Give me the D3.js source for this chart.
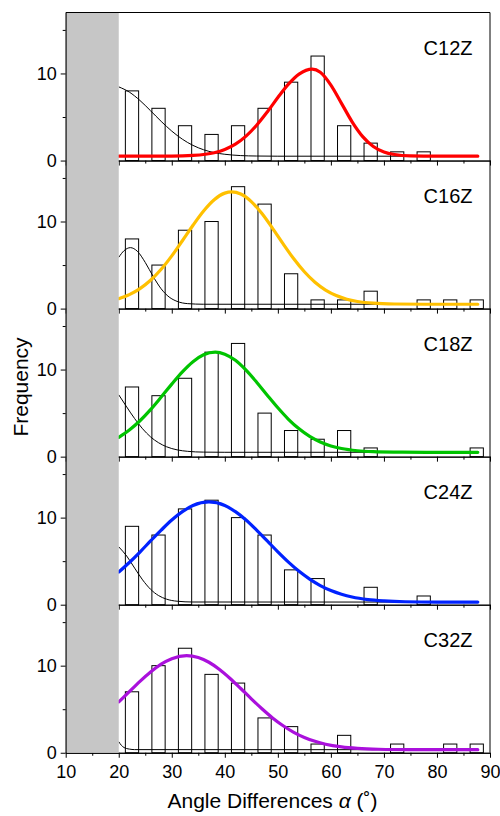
<!DOCTYPE html>
<html>
<head>
<meta charset="utf-8">
<script src="https://cdn.jsdelivr.net/npm/d3@7"></script>
<style>
  body { margin: 0; background: #fff; }
  text { font-family: "Liberation Sans", Arial, sans-serif; fill: #000; }
</style>
</head>
<body>
<svg id="chart" width="500" height="816"></svg>
<script>
// sample names, top to bottom
const samples = ["C12Z", "C16Z", "C18Z", "C24Z", "C32Z"];
const fitColors = ["#ff0000", "#ffc000", "#00c400", "#0022ff", "#aa10dc"];

// histogram bins (5 deg wide)
const binCenters = [22.5, 27.5, 32.5, 37.5, 42.5, 47.5, 52.5, 57.5, 62.5, 67.5, 72.5, 77.5, 82.5, 87.5];
const c12zCounts = [8, 6, 4, 3, 4, 6, 9, 12, 4, 2, 1, 1, 0, 0];
const c16zCounts = [8, 5, 9, 10, 14, 12, 4, 1, 1, 2, 0, 1, 1, 1];
const c18zCounts = [8, 7, 9, 12, 13, 5, 3, 2, 3, 1, 0, 0, 0, 1];
const c24zCounts = [9, 8, 11, 12, 10, 8, 4, 3, 0, 2, 0, 1, 0, 0];
const c32zCounts = [7, 10, 12, 9, 8, 4, 3, 1, 2, 0, 1, 0, 1, 1];

// main fit curves (coloured), [angle, frequency]
const c12zFit = [[20,0.5],[30,0.51],[34,0.59],[38,0.9],[40,1.28],[42,1.89],[44,2.81],[46,4.06],[48,5.58],[50,7.23],[52,8.77],[54,9.93],[56.5,10.5],[58,10.14],[60,8.67],[62,6.57],[64,4.45],[66,2.75],[68,1.62],[70,0.99],[72,0.69],[75,0.53],[80,0.5],[87.7,0.5]];
const c16zFit = [[20,1.14],[22,1.6],[24,2.29],[26,3.25],[28,4.51],[30,6.05],[32,7.79],[34,9.57],[36,11.21],[38,12.5],[40,13.26],[41.3,13.4],[43,13.16],[45,12.29],[47,10.91],[49,9.22],[51,7.43],[53,5.72],[55,4.23],[57,3.03],[59,2.13],[61,1.5],[63,1.08],[65,0.82],[68,0.62],[72,0.53],[78,0.5],[87.7,0.5]];
const c18zFit = [[20,2.21],[22,3.05],[24,4.12],[26,5.4],[28,6.84],[30,8.33],[32,9.74],[34,10.91],[36,11.7],[38.2,12.0],[40,11.77],[42,11.06],[44,9.93],[46,8.55],[48,7.06],[50,5.61],[52,4.29],[54,3.19],[56,2.32],[58,1.68],[60,1.23],[62,0.93],[65,0.68],[68,0.57],[72,0.52],[78,0.5],[87.7,0.5]];
const c24zFit = [[20,3.75],[22,4.85],[24,6.05],[26,7.32],[28,8.56],[30,9.72],[32,10.68],[34,11.39],[37,11.8],[40,11.39],[42,10.68],[44,9.72],[46,8.56],[48,7.32],[50,6.07],[52,4.89],[54,3.83],[56,2.94],[58,2.2],[60,1.63],[62,1.2],[64,0.88],[67,0.59],[70,0.44],[74,0.34],[80,0.3],[87.7,0.3]];
const c32zFit = [[20,5.84],[22,7.02],[24,8.19],[26,9.27],[28,10.17],[30,10.8],[32.8,11.15],[35,10.93],[37,10.39],[39,9.56],[41,8.53],[43,7.38],[45,6.19],[47,5.05],[49,4.0],[51,3.1],[53,2.35],[55,1.76],[57,1.31],[59,0.98],[62,0.67],[65,0.5],[69,0.4],[75,0.36],[87.7,0.35]];

// small-angle component (thin black)
const c12zLow = [[20,8.46],[22,7.86],[24,6.9],[26,5.72],[28,4.5],[30,3.38],[32,2.45],[34,1.74],[36,1.24],[38,0.91],[40,0.72],[43,0.57],[46,0.52],[50,0.5],[87.7,0.5]];
const c16zLow = [[20,5.89],[21,6.65],[22.2,7.0],[23.5,6.59],[25,5.3],[26.5,3.68],[28,2.27],[29.5,1.33],[31,0.83],[33,0.57],[36,0.5],[87.7,0.5]];
const c18zLow = [[20,7.1],[21.5,5.71],[23,4.37],[24.5,3.2],[26,2.27],[27.5,1.6],[29,1.14],[31,0.78],[33,0.61],[36,0.52],[40,0.5],[87.7,0.5]];
const c24zLow = [[20,6.64],[21.5,5.59],[23,4.2],[24.5,2.85],[26,1.77],[27.5,1.05],[29,0.64],[31,0.4],[34,0.31],[87.7,0.3]];
const c32zLow = [[20,1.27],[20.5,0.85],[21,0.6],[22,0.42],[23,0.36],[87.7,0.35]];

const xTicks = [10, 20, 30, 40, 50, 60, 70, 80, 90];
const xMinorTicks = [15, 25, 35, 45, 55, 65, 75, 85];
const yTicks = [0, 10];
const yMinorTicks = [5, 15];

const counts = [c12zCounts, c16zCounts, c18zCounts, c24zCounts, c32zCounts];
const fits = [c12zFit, c16zFit, c18zFit, c24zFit, c32zFit];
const lows = [c12zLow, c16zLow, c18zLow, c24zLow, c32zLow];

const font = "'Liberation Sans', Arial, sans-serif";
const svg = d3.select("#chart");

const plotLeft = 65.7, plotRight = 490;
const plotTop = 12.5, panelH = 148.05;
const plotBottom = plotTop + panelH * samples.length;

const x = d3.scaleLinear().domain([10, 90]).range([plotLeft, plotRight]);
const binW = 2.5;

samples.forEach((name, i) => {
  const y = d3.scaleLinear()
    .domain([0, 17])
    .range([plotTop + (i + 1) * panelH, plotTop + i * panelH]);

  const g = svg.append("g");

  // bars
  g.selectAll("rect.bar")
    .data(binCenters.map((c, k) => ({ c: c, v: counts[i][k] })).filter(d => d.v > 0))
    .enter().append("rect")
    .attr("class", "bar")
    .attr("x", d => x(d.c - binW / 2))
    .attr("y", d => y(d.v))
    .attr("width", d => x(d.c + binW / 2) - x(d.c - binW / 2))
    .attr("height", d => y(0) - y(d.v))
    .attr("fill", "#fff")
    .attr("stroke", "#000")
    .attr("stroke-width", 1);

  const line = d3.line()
    .x(d => x(d[0]))
    .y(d => y(d[1]))
    .curve(d3.curveMonotoneX);

  g.append("path")
    .datum(lows[i])
    .attr("fill", "none")
    .attr("stroke", "#000")
    .attr("stroke-width", 1)
    .attr("d", line);

  g.append("path")
    .datum(fits[i])
    .attr("fill", "none")
    .attr("stroke", fitColors[i])
    .attr("stroke-width", 3.2)
    .attr("stroke-linecap", "round")
    .attr("d", line);

  // bottom axis (labels only on last panel)
  const last = i === samples.length - 1;
  g.append("g")
    .attr("transform", `translate(0,${y(0)})`)
    .call(d3.axisBottom(x).tickValues(xTicks).tickSize(5).tickSizeOuter(0).tickPadding(7)
      .tickFormat(last ? d3.format("d") : ""));
  g.append("g")
    .attr("transform", `translate(0,${y(0)})`)
    .call(d3.axisBottom(x).tickValues(xMinorTicks).tickSize(3).tickSizeOuter(0).tickFormat(""));

  // left axis
  g.append("g")
    .attr("transform", `translate(${plotLeft},0)`)
    .call(d3.axisLeft(y).tickValues(yTicks).tickSize(5).tickSizeOuter(0).tickPadding(4));
  g.append("g")
    .attr("transform", `translate(${plotLeft},0)`)
    .call(d3.axisLeft(y).tickValues(yMinorTicks).tickSize(3).tickSizeOuter(0).tickFormat(""));

  // right border
  g.append("line")
    .attr("x1", plotRight).attr("x2", plotRight)
    .attr("y1", y(17)).attr("y2", y(0))
    .attr("stroke", "#000");

  if (i === 0) {
    g.append("line")
      .attr("x1", plotLeft).attr("x2", plotRight)
      .attr("y1", y(17)).attr("y2", y(17))
      .attr("stroke", "#000");
  }

  // sample label
  g.append("text")
    .attr("x", 472.5)
    .attr("y", y(17) + 42.5)
    .attr("text-anchor", "end")
    .attr("font-size", 20)
    .attr("font-family", font)
    .text(name);
});

svg.selectAll(".tick text").attr("font-size", 18).attr("font-family", font);
svg.selectAll(".domain, .tick line").attr("stroke", "#000");

// excluded region below 20 deg
svg.append("rect")
  .attr("x", x(10) + 1)
  .attr("y", plotTop + 0.5)
  .attr("width", x(20) - x(10) - 1)
  .attr("height", plotBottom - plotTop - 0.5)
  .attr("fill", "#c6c6c6");

// axis titles
svg.append("text")
  .attr("transform", "rotate(-90)")
  .attr("x", -387)
  .attr("y", 28)
  .attr("text-anchor", "middle")
  .attr("font-size", 21)
  .attr("font-family", font)
  .text("Frequency");

const xt = svg.append("text")
  .attr("x", 272.5)
  .attr("y", 808)
  .attr("text-anchor", "middle")
  .attr("font-size", 21)
  .attr("font-family", font);
xt.append("tspan").text("Angle Differences ");
xt.append("tspan").attr("font-style", "italic").text("α");
xt.append("tspan").text(" (˚)");
</script>
</body>
</html>
